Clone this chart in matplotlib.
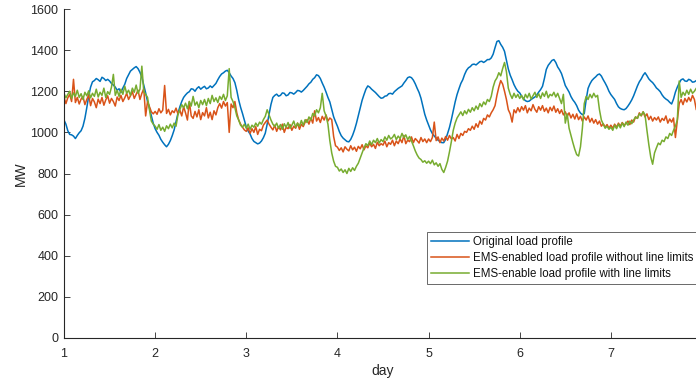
import numpy as np
import matplotlib
matplotlib.use("Agg")
import matplotlib.pyplot as plt

plt.rcParams['font.family'] = ['Liberation Sans', 'DejaVu Sans']

# Half-hourly load readings (MW), one row of 24 per half day, starting at day 1
original = [
    1060, 1040, 1008, 990, 988, 982, 970, 985, 998, 1008, 1030, 1068, 1120, 1176, 1220, 1246, 1252, 1262, 1256, 1248, 1268, 1262, 1252, 1258,
    1250, 1238, 1230, 1220, 1205, 1212, 1194, 1216, 1234, 1262, 1280, 1298, 1306, 1314, 1320, 1310, 1292, 1268, 1230, 1192, 1150, 1118, 1080, 1044,
    1018, 1000, 986, 966, 952, 940, 930, 942, 960, 984, 1012, 1052, 1092, 1124, 1150, 1170, 1182, 1192, 1198, 1212, 1210, 1200, 1214, 1222,
    1210, 1218, 1224, 1212, 1216, 1226, 1218, 1228, 1238, 1256, 1272, 1284, 1290, 1298, 1302, 1290, 1274, 1262, 1242, 1204, 1158, 1122, 1092, 1058,
    1026, 1006, 992, 970, 956, 950, 944, 948, 958, 974, 996, 1040, 1088, 1136, 1170, 1180, 1186, 1176, 1180, 1192, 1190, 1178, 1182, 1194,
    1192, 1186, 1194, 1204, 1202, 1196, 1204, 1214, 1224, 1236, 1244, 1258, 1266, 1280, 1276, 1262, 1240, 1220, 1196, 1170, 1148, 1112, 1076, 1052,
    1030, 1004, 984, 972, 964, 956, 954, 966, 986, 1012, 1044, 1082, 1122, 1156, 1184, 1210, 1226, 1220, 1210, 1202, 1194, 1184, 1174, 1166,
    1168, 1176, 1178, 1188, 1190, 1186, 1198, 1206, 1214, 1220, 1226, 1240, 1252, 1266, 1270, 1266, 1254, 1236, 1214, 1194, 1166, 1128, 1088, 1060,
    1036, 1012, 994, 982, 972, 962, 956, 950, 950, 966, 994, 1024, 1062, 1104, 1148, 1184, 1212, 1238, 1256, 1282, 1302, 1314, 1320, 1330,
    1332, 1328, 1336, 1344, 1346, 1340, 1346, 1354, 1354, 1362, 1380, 1412, 1442, 1446, 1428, 1414, 1394, 1350, 1308, 1278, 1256, 1232, 1214, 1200,
    1192, 1176, 1164, 1154, 1150, 1152, 1160, 1166, 1172, 1182, 1196, 1208, 1224, 1262, 1306, 1326, 1338, 1350, 1354, 1340, 1318, 1304, 1286, 1258,
    1228, 1212, 1196, 1174, 1158, 1146, 1130, 1108, 1094, 1086, 1092, 1160, 1214, 1236, 1252, 1262, 1270, 1280, 1284, 1274, 1256, 1240, 1222, 1200,
    1184, 1172, 1160, 1140, 1124, 1116, 1112, 1110, 1116, 1128, 1142, 1158, 1178, 1202, 1226, 1246, 1260, 1278, 1290, 1276, 1260, 1250, 1242, 1230,
    1216, 1208, 1198, 1182, 1170, 1162, 1156, 1146, 1138, 1162, 1196, 1220, 1240, 1256, 1260, 1250, 1248, 1258, 1254, 1244, 1246, 1252, 1248, 1240,
    1244,
]

ems_no_limits = [
    1172, 1140, 1168, 1185, 1150, 1258, 1145, 1170, 1138, 1162, 1175, 1135, 1160, 1182, 1130, 1165, 1148, 1120, 1162, 1140, 1170, 1132, 1158, 1178,
    1142, 1165, 1150, 1128, 1172, 1155, 1180, 1150, 1168, 1190, 1160, 1178, 1198, 1165, 1185, 1205, 1160, 1190, 1212, 1080, 1150, 1125, 1100, 1090,
    1102, 1088, 1115, 1095, 1108, 1228, 1092, 1112, 1085, 1105, 1096, 1118, 1090, 1108, 1080, 1125, 1095, 1060, 1150, 1080, 1068, 1102, 1075, 1110,
    1062, 1096, 1080, 1120, 1070, 1098, 1062, 1105, 1085, 1120, 1140, 1118, 1150, 1128, 1145, 1000, 1138, 1120, 1150, 1095, 1060, 1040, 1025, 1012,
    1005, 1022, 995, 1018, 1000, 1028, 990, 1015, 1008, 1035, 1048, 1060, 1040, 1025, 1012, 1035, 1005, 1028, 1012, 1040, 1000, 1025, 1018, 1038,
    1010, 1030, 1020, 1045, 1015, 1040, 1028, 1050, 1062, 1040, 1070, 1045, 1105, 1055, 1072, 1048, 1078, 1060, 1085, 1055, 1070, 1062, 980, 935,
    928, 912, 925, 905, 930, 918, 910, 935, 915, 928, 908, 932, 920, 940, 915, 935, 925, 948, 930, 942, 922, 952, 935, 945,
    938, 958, 930, 950, 942, 962, 935, 958, 945, 968, 950, 985, 945, 962, 955, 978, 950, 970, 960, 948, 975, 955, 968, 950,
    968, 955, 975, 1050, 960, 978, 950, 972, 958, 980, 962, 985, 968, 975, 958, 990, 970, 995, 985, 1005, 1000, 1018, 1010, 1030,
    1015, 1042, 1025, 1055, 1040, 1068, 1060, 1085, 1075, 1095, 1110, 1130, 1180, 1220, 1252, 1235, 1200, 1160, 1110, 1090, 1050, 1110, 1095, 1120,
    1100, 1125, 1108, 1130, 1095, 1118, 1105, 1135, 1112, 1098, 1125, 1108, 1130, 1102, 1118, 1095, 1122, 1105, 1128, 1098, 1115, 1092, 1110, 1085,
    1100, 1078, 1095, 1070, 1088, 1065, 1090, 1062, 1078, 1055, 1075, 1060, 1080, 1050, 1068, 1045, 1062, 1040, 1055, 1030, 1042, 1025, 1038, 1020,
    1035, 1020, 1040, 1025, 1045, 1030, 1048, 1035, 1042, 1055, 1038, 1060, 1050, 1075, 1068, 1095, 1080, 1100, 1075, 1090, 1062, 1078, 1055, 1072,
    1060, 1075, 1050, 1068, 1058, 1080, 1045, 1065, 1050, 1070, 975, 1060, 1140, 1160, 1135, 1165, 1148, 1170, 1152, 1180, 1160, 1110, 1170, 1150,
    1158,
]

ems_with_limits = [
    1190, 1168, 1185, 1200, 1165, 1192, 1175, 1205, 1170, 1188, 1160, 1195, 1178, 1202, 1168, 1190, 1175, 1210, 1172, 1195, 1180, 1215, 1170, 1198,
    1185, 1220, 1282, 1180, 1205, 1175, 1210, 1185, 1225, 1190, 1205, 1180, 1215, 1195, 1230, 1190, 1210, 1322, 1200, 1185, 1170, 1110, 1055, 1040,
    1030, 1015, 1038, 1010, 1025, 1005, 1032, 1018, 1040, 1022, 1045, 1030, 1085, 1110, 1135, 1120, 1142, 1115, 1150, 1128, 1175, 1132, 1148, 1120,
    1155, 1135, 1160, 1130, 1165, 1140, 1180, 1150, 1168, 1145, 1175, 1160, 1185, 1155, 1178, 1310, 1170, 1150, 1120, 1080, 1060, 1035, 1025, 1040,
    1020, 1040, 1015, 1035, 1025, 1045, 1030, 1050, 1040, 1062, 1078, 1110, 1085, 1060, 1040, 1028, 1045, 1020, 1038, 1015, 1042, 1025, 1048, 1020,
    1035, 1055, 1025, 1045, 1030, 1058, 1035, 1062, 1048, 1075, 1060, 1092, 1080, 1110, 1095, 1120, 1190, 1105, 1080, 1040, 960, 900, 860, 835,
    830, 812, 822, 805, 818, 800, 825, 810, 828, 815, 835, 850, 875, 900, 925, 945, 935, 958, 940, 962, 950, 970, 948, 965,
    955, 978, 962, 985, 968, 975, 990, 965, 982, 970, 995, 975, 988, 965, 980, 958, 935, 910, 890, 875, 868, 855, 862, 850,
    860, 848, 865, 842, 852, 835, 848, 820, 805, 830, 860, 905, 955, 1010, 1045, 1070, 1085, 1100, 1082, 1105, 1090, 1112, 1098, 1120,
    1105, 1128, 1112, 1140, 1125, 1148, 1135, 1160, 1150, 1175, 1220, 1250, 1265, 1290, 1275, 1310, 1340, 1295, 1215, 1185, 1165, 1190, 1170, 1185,
    1165, 1180, 1158, 1185, 1168, 1190, 1162, 1178, 1195, 1170, 1188, 1165, 1192, 1175, 1200, 1168, 1185, 1178, 1195, 1172, 1190, 1165, 1140, 1185,
    1045, 1090, 1020, 985, 950, 918, 892, 885, 930, 1020, 1140, 1175, 1160, 1185, 1168, 1190, 1172, 1180, 1110, 1060, 1040, 1020, 1030, 1015,
    1025, 1010, 1035, 1018, 1040, 1022, 1045, 1028, 1050, 1035, 1055, 1042, 1060, 1075, 1068, 1090, 1082, 1100, 1085, 1010, 940, 880, 845, 900,
    925, 948, 940, 962, 955, 978, 970, 995, 985, 1010, 1030, 1060, 1250, 1170, 1195, 1180, 1205, 1185, 1210, 1190, 1200, 1215, 1185, 1205,
    1200,
]

series_labels = [
    "Original load profile",
    "EMS-enabled load profile without line limits",
    "EMS-enable load profile with line limits",
]
series_colors = ["#0072BD", "#D95319", "#77AC30"]
samples_per_day = 48

fig = plt.figure(figsize=(6.96, 3.83), dpi=100)
ax = fig.add_axes([64 / 696, 1 - 338 / 383, (702 - 64) / 696, (338 - 9) / 383])

for values, label, color in zip([original, ems_no_limits, ems_with_limits], series_labels, series_colors):
    day = 1 + np.arange(len(values)) / samples_per_day
    ax.plot(day, values, color=color, lw=1.1, label=label)

ax.set_xlim(1, 8)
ax.set_ylim(0, 1600)
ax.set_xticks([1, 2, 3, 4, 5, 6, 7])
ax.set_yticks(np.arange(0, 1601, 200))

axis_color = "#262626"
for side in ["top", "right"]:
    ax.spines[side].set_visible(False)
for side in ["left", "bottom"]:
    ax.spines[side].set_color(axis_color)
    ax.spines[side].set_linewidth(0.8)
ax.tick_params(direction="in", length=4, width=0.6, colors=axis_color, labelsize=9)
ax.tick_params(axis="x", pad=7)
ax.tick_params(axis="y", pad=4)

ax.set_xlabel("day", fontsize=10, color=axis_color, labelpad=3)
ax.set_ylabel("MW", fontsize=10, color=axis_color, labelpad=2)

leg = ax.legend(loc="upper left", bbox_to_anchor=(427 / 696, 1 - 232 / 383),
                bbox_transform=fig.transFigure, borderaxespad=0, fontsize=8.3,
                frameon=True, fancybox=False, handlelength=3.3, handletextpad=0.3,
                labelspacing=0.35, borderpad=0.35)
leg.get_frame().set_edgecolor(axis_color)
leg.get_frame().set_linewidth(0.6)
for t in leg.get_texts():
    t.set_color("#111111")

fig.savefig("out.png", dpi=100)
